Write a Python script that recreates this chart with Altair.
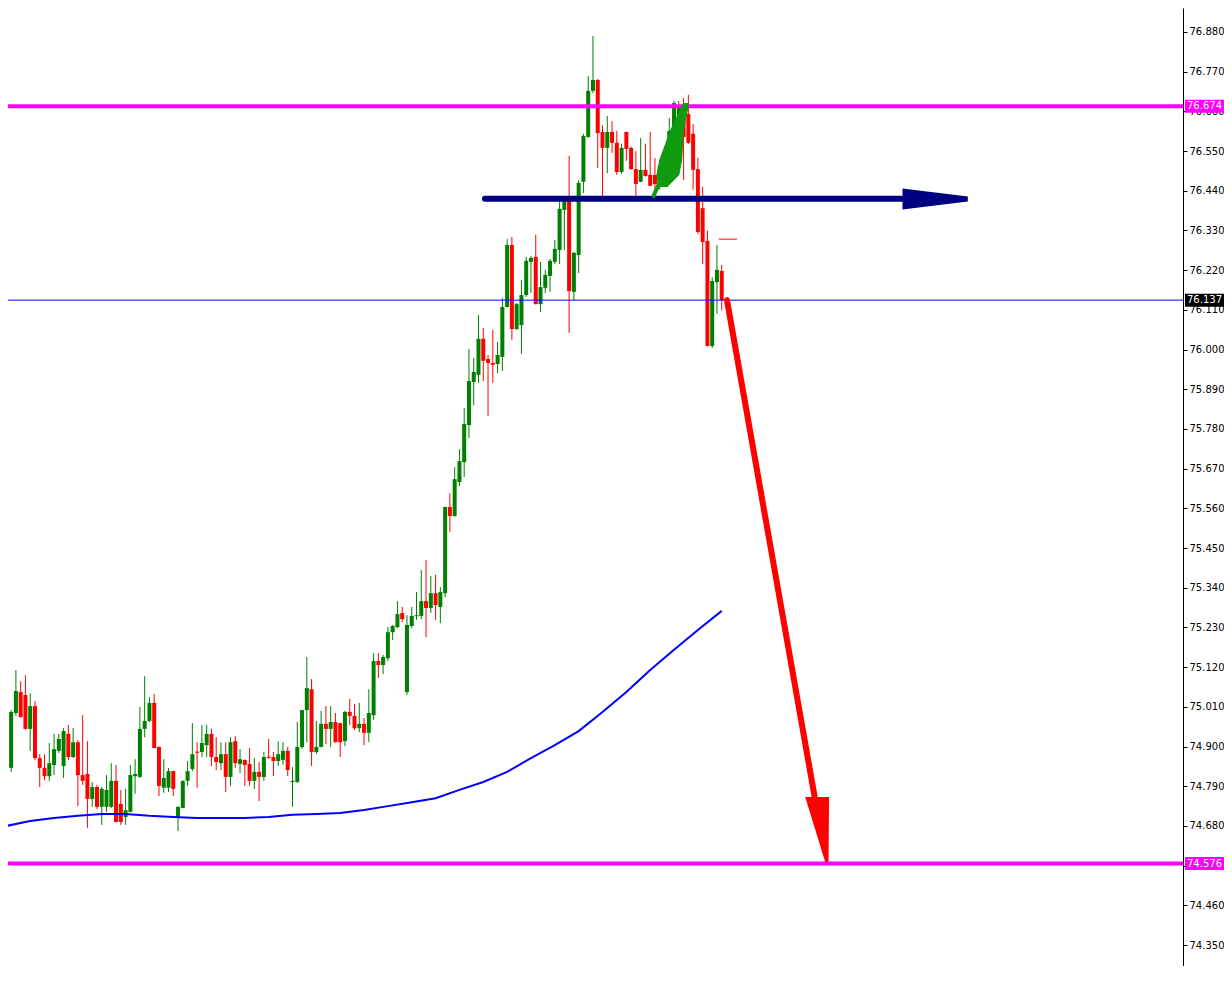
import altair as alt
import pandas as pd

# ---- candle data (index, OHLC) ----
opens = [74.851, 74.841, 74.993, 75.051, 75.043, 74.949, 75.012, 74.868, 74.841, 74.818,
         74.849, 74.888, 74.846, 74.935, 74.871, 74.912, 74.821, 74.824, 74.755, 74.788,
         74.733, 74.733, 74.733, 74.805, 74.741, 74.705, 74.719, 74.818, 74.816, 74.949,
         74.971, 75.021, 74.899, 74.786, 74.786, 74.832, 74.705, 74.730, 74.805, 74.838,
         74.886, 74.885, 74.904, 74.935, 74.871, 74.854, 74.879, 74.816, 74.915, 74.852,
         74.863, 74.852, 74.805, 74.830, 74.816, 74.872, 74.871, 74.860, 74.863, 74.888,
         74.802, 74.802, 74.899, 75.001, 75.059, 74.885, 74.899, 74.963, 74.949, 74.968,
         74.965, 74.915, 74.996, 74.985, 74.951, 74.963, 74.938, 74.987, 75.137, 75.126,
         75.145, 75.217, 75.231, 75.270, 75.051, 75.234, 75.261, 75.262, 75.303, 75.284,
         75.325, 75.287, 75.325, 75.564, 75.539, 75.633, 75.688, 75.791, 75.910, 75.930,
         76.030, 75.974, 75.963, 75.960, 75.980, 76.118, 76.290, 76.057, 76.068, 76.151,
         76.243, 76.257, 76.126, 76.171, 76.204, 76.243, 76.276, 76.387, 76.415, 76.160,
         76.262, 76.465, 76.589, 76.717, 76.747, 76.603, 76.559, 76.603, 76.573, 76.492,
         76.603, 76.559, 76.500, 76.465, 76.498, 76.484, 76.484, 76.459, 76.462, 76.539,
         76.606, 76.609, 76.670, 76.653, 76.598, 76.500, 76.392, 76.301, 76.010, 76.187,
         76.218]
closes = [74.848, 74.996, 75.054, 74.982, 74.949, 75.012, 74.868, 74.841, 74.818, 74.854,
          74.893, 74.921, 74.943, 74.871, 74.912, 74.821, 74.805, 74.755, 74.788, 74.733,
          74.783, 74.780, 74.805, 74.691, 74.691, 74.724, 74.821, 74.824, 74.949, 74.971,
          75.021, 74.896, 74.791, 74.813, 74.832, 74.783, 74.733, 74.805, 74.832, 74.879,
          74.883, 74.910, 74.935, 74.871, 74.857, 74.879, 74.816, 74.912, 74.854, 74.865,
          74.849, 74.805, 74.830, 74.816, 74.871, 74.869, 74.860, 74.879, 74.888, 74.835,
          74.805, 74.899, 75.001, 75.062, 74.885, 74.899, 74.963, 74.949, 74.968, 74.912,
          74.912, 74.996, 74.985, 74.951, 74.963, 74.938, 74.993, 75.137, 75.126, 75.148,
          75.217, 75.234, 75.267, 75.253, 75.237, 75.262, 75.264, 75.303, 75.284, 75.325,
          75.292, 75.328, 75.564, 75.539, 75.641, 75.691, 75.794, 75.913, 75.938, 76.030,
          75.969, 75.963, 75.958, 75.985, 76.118, 76.290, 76.057, 76.126, 76.151, 76.246,
          76.254, 76.126, 76.173, 76.207, 76.246, 76.279, 76.390, 76.417, 76.162, 76.268,
          76.462, 76.592, 76.717, 76.747, 76.600, 76.559, 76.603, 76.573, 76.492, 76.559,
          76.556, 76.500, 76.459, 76.498, 76.481, 76.454, 76.459, 76.509, 76.545, 76.606,
          76.683, 76.670, 76.589, 76.573, 76.498, 76.326, 76.298, 76.010, 76.190, 76.221,
          76.137]
highs = [74.868, 75.001, 75.112, 75.081, 75.098, 75.048, 75.026, 74.879, 74.879, 74.910,
         74.935, 74.935, 74.951, 74.960, 74.951, 74.918, 74.987, 74.915, 74.802, 74.794,
         74.788, 74.821, 74.854, 74.849, 74.780, 74.783, 74.849, 74.865, 75.010, 75.095,
         75.037, 75.046, 74.900, 74.865, 74.841, 74.833, 74.734, 74.806, 74.860, 74.965,
         74.912, 74.960, 74.960, 74.949, 74.926, 74.912, 74.912, 74.926, 74.929, 74.893,
         74.864, 74.896, 74.868, 74.857, 74.885, 74.921, 74.885, 74.915, 74.912, 74.899,
         74.843, 74.968, 75.002, 75.148, 75.087, 74.971, 74.999, 75.012, 75.012, 74.993,
         74.966, 74.999, 75.032, 75.018, 75.021, 74.979, 75.059, 75.159, 75.159, 75.154,
         75.231, 75.237, 75.303, 75.287, 75.264, 75.287, 75.328, 75.389, 75.417, 75.373,
         75.376, 75.342, 75.565, 75.602, 75.674, 75.724, 75.838, 76.002, 75.977, 76.096,
         76.060, 75.985, 76.055, 76.021, 76.143, 76.306, 76.312, 76.129, 76.193, 76.257,
         76.260, 76.318, 76.243, 76.221, 76.251, 76.304, 76.415, 76.423, 76.537, 76.271,
         76.470, 76.598, 76.758, 76.869, 76.750, 76.622, 76.647, 76.633, 76.606, 76.570,
         76.604, 76.562, 76.550, 76.586, 76.570, 76.603, 76.531, 76.525, 76.553, 76.642,
         76.689, 76.689, 76.697, 76.706, 76.625, 76.531, 76.451, 76.329, 76.201, 76.290,
         76.235]
lows = [74.799, 74.830, 74.985, 74.980, 74.947, 74.888, 74.863, 74.788, 74.807, 74.805,
        74.821, 74.882, 74.813, 74.863, 74.868, 74.735, 74.794, 74.675, 74.733, 74.727,
        74.683, 74.719, 74.730, 74.690, 74.683, 74.683, 74.718, 74.769, 74.813, 74.926,
        74.968, 74.895, 74.763, 74.772, 74.774, 74.763, 74.666, 74.729, 74.791, 74.832,
        74.786, 74.871, 74.871, 74.846, 74.835, 74.835, 74.774, 74.791, 74.841, 74.827,
        74.791, 74.791, 74.783, 74.749, 74.805, 74.866, 74.818, 74.846, 74.849, 74.818,
        74.733, 74.799, 74.893, 74.912, 74.846, 74.879, 74.898, 74.907, 74.899, 74.911,
        74.871, 74.901, 74.960, 74.946, 74.940, 74.904, 74.912, 74.974, 75.090, 75.101,
        75.137, 75.195, 75.228, 75.245, 75.043, 75.228, 75.251, 75.253, 75.203, 75.270,
        75.251, 75.242, 75.314, 75.494, 75.536, 75.622, 75.647, 75.755, 75.846, 75.908,
        75.913, 75.816, 75.908, 75.935, 75.941, 76.117, 76.027, 76.054, 75.988, 76.146,
        76.157, 76.125, 76.104, 76.157, 76.160, 76.237, 76.237, 76.276, 76.046, 76.137,
        76.212, 76.434, 76.587, 76.711, 76.503, 76.423, 76.489, 76.545, 76.484, 76.487,
        76.523, 76.498, 76.426, 76.464, 76.479, 76.453, 76.420, 76.443, 76.456, 76.531,
        76.595, 76.603, 76.470, 76.570, 76.443, 76.320, 76.237, 76.009, 76.004, 76.099,
        76.109]

# moving average read at every 5th candle
ma_index = list(range(0, 151, 5))
ma_values = [74.680, 74.694, 74.702, 74.708, 74.713, 74.713, 74.708, 74.705, 74.702, 74.702,
             74.702, 74.705, 74.711, 74.713, 74.716, 74.724, 74.735, 74.746, 74.757, 74.780,
             74.802, 74.830, 74.868, 74.904, 74.943, 74.996, 75.051, 75.112, 75.168, 75.223,
             75.276]

# horizontal levels
level_prices = [76.674, 74.576, 76.137]
level_colors = ["#ff00ff", "#ff00ff", "#0000ff"]
level_widths = [4, 4, 1]
level_labels = ["76.674", "74.576", "76.137"]
label_boxes = ["#ff00ff", "#ff00ff", "#000000"]

tick_values = [74.350, 74.460, 74.570, 74.680, 74.790, 74.900, 75.010, 75.120, 75.230,
               75.340, 75.450, 75.560, 75.670, 75.780, 75.890, 76.000, 76.110, 76.220,
               76.330, 76.440, 76.550, 76.660, 76.770, 76.880]

# drawn arrow shafts (index units, price units, width px)
shaft_group = ["n", "n", "g", "g", "r", "r"]
shaft_x = [100.35, 188.2, 135.7, 137.2, 151.1, 169.6]
shaft_y = [76.418, 76.418, 76.426, 76.470, 76.137, 74.752]
shaft_w = [6, 6, 4, 4, 6, 6]
shaft_col = ["#000080", "#000080", "#0f9a0f", "#0f9a0f", "#ff0000", "#ff0000"]

# navy arrow head (horizontal): x, lower and upper price
navy_head_x = [187.9, 201.6]
navy_head_lo = [76.3882, 76.4104]
navy_head_hi = [76.4464, 76.4242]

# green and red arrow heads (vertical-ish): price, left and right index
head_group = ["g", "g", "g", "g", "g", "r", "r"]
head_p = [76.6833, 76.6085, 76.5254, 76.4838, 76.4506, 74.7603, 74.5802]
head_left = [141.9, 139.2, 136.9, 136.3, 136.7, 167.5, 171.7]
head_right = [143.2, 142.1, 141.7, 141.1, 138.6, 172.5, 172.4]
head_col = ["#0f9a0f"] * 5 + ["#ff0000"] * 2

bid_x = [149.4]
bid_x2 = [153.2]
bid_price = [76.306]

W, H = 1175, 958
X_DOM = [1.393, 245.67]
Y_DOM = [74.2920, 76.9465]

candles = pd.DataFrame({"i": list(range(len(opens))), "o": opens, "c": closes, "h": highs, "l": lows})
candles["dir"] = ["up" if c >= o else "down" for o, c in zip(opens, closes)]
ma = pd.DataFrame({"i": ma_index, "v": ma_values})
levels = pd.DataFrame({"p": level_prices, "col": level_colors, "sw": level_widths,
                       "t": level_labels, "box": label_boxes})
shafts = pd.DataFrame({"g": shaft_group, "x": shaft_x, "y": shaft_y, "w": shaft_w,
                       "col": shaft_col, "seq": list(range(len(shaft_x)))})
navy_head = pd.DataFrame({"x": navy_head_x, "lo": navy_head_lo, "hi": navy_head_hi})
heads = pd.DataFrame({"g": head_group, "p": head_p, "a": head_left, "b": head_right,
                      "col": head_col})
bid = pd.DataFrame({"x": bid_x, "x2": bid_x2, "p": bid_price})

xscale = alt.Scale(domain=X_DOM, nice=False, zero=False)
yscale = alt.Scale(domain=Y_DOM, nice=False, zero=False)
yaxis = alt.Axis(orient="right", values=tick_values, format=".3f", title=None, grid=False,
                 domainColor="#000000", tickColor="#000000", tickSize=4, labelPadding=2,
                 labelColor="#000000", labelFont="DejaVu Sans", labelFontSize=10)


def xs(f):
    return alt.X(f, scale=xscale, axis=None)


def ys(f):
    return alt.Y(f, scale=yscale, axis=yaxis)


colscale = alt.Scale(domain=["up", "down"], range=["#008000", "#ff0000"])

wicks = alt.Chart(candles).mark_rule(strokeWidth=1, clip=True).encode(
    x=xs("i:Q"), y=ys("l:Q"), y2="h:Q", color=alt.Color("dir:N", scale=colscale, legend=None))
bodies = alt.Chart(candles).mark_bar(size=4, clip=True).encode(
    x=xs("i:Q"), y=ys("o:Q"), y2="c:Q", color=alt.Color("dir:N", scale=colscale, legend=None))

ma_line = alt.Chart(ma).mark_line(color="#0000ff", strokeWidth=2, clip=True).encode(
    x=xs("i:Q"), y=ys("v:Q"))

level_lines = alt.Chart(levels).mark_rule(strokeCap="butt").encode(
    x=alt.value(0), x2=alt.value(W), y=ys("p:Q"),
    color=alt.Color("col:N", scale=None), strokeWidth=alt.StrokeWidth("sw:Q", scale=None))

bid_line = alt.Chart(bid).mark_rule(color="#ff0000", strokeWidth=1).encode(
    x=xs("x:Q"), x2="x2:Q", y=ys("p:Q"))

shaft_marks = alt.Chart(shafts).mark_trail().encode(
    x=xs("x:Q"), y=ys("y:Q"), size=alt.Size("w:Q", scale=None),
    color=alt.Color("col:N", scale=None), detail="g:N", order="seq:Q")

navy_head_mark = alt.Chart(navy_head).mark_area(color="#000080", orient="vertical").encode(
    x=xs("x:Q"), y=ys("lo:Q"), y2="hi:Q")

head_marks = alt.Chart(heads).mark_area(orient="horizontal").encode(
    y=ys("p:Q"), x=xs("a:Q"), x2="b:Q", color=alt.Color("col:N", scale=None), detail="g:N")

boxes = alt.Chart(levels).mark_rule(strokeWidth=13, strokeCap="butt").encode(
    x=alt.value(W + 2), x2=alt.value(W + 41), y=ys("p:Q"), color=alt.Color("box:N", scale=None))
box_text = alt.Chart(levels).mark_text(align="left", baseline="middle", color="#ffffff",
                                       font="DejaVu Sans", fontSize=10).encode(
    x=alt.value(W + 4), y=ys("p:Q"), text="t:N")

chart = alt.layer(wicks, bodies, level_lines, ma_line, bid_line, shaft_marks, navy_head_mark,
                  head_marks, boxes, box_text).properties(
    width=W, height=H, background="#ffffff",
    autosize=alt.AutoSizeParams(type="none"),
    padding={"left": 0, "top": 0, "right": 41, "bottom": 0},
).configure_view(stroke=None)

chart.save("out.html", embed_options={"renderer": "svg", "actions": False})
